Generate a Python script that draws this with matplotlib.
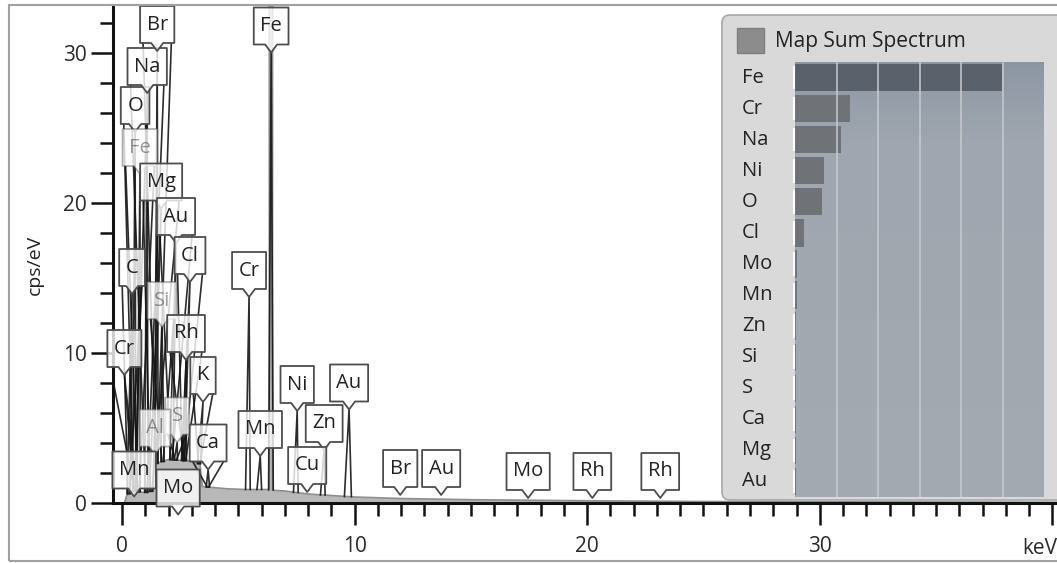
import numpy as np
import matplotlib
matplotlib.use("Agg")
import matplotlib.pyplot as plt
from matplotlib.patches import Polygon, Rectangle, FancyBboxPatch
from matplotlib.ticker import MultipleLocator, FixedLocator, FixedFormatter
from matplotlib.transforms import IdentityTransform
from matplotlib.colors import LinearSegmentedColormap

# ---------------- data ----------------
# Map Sum Spectrum (grey filled), energy in keV and cps/eV
spec_energy = [-0.39, 0.10, 0.20, 0.40, 1.00, 1.30, 1.40, 2.00, 3.00, 3.35, 3.45,
               4.50, 5.30, 6.33, 6.33, 6.47, 6.47, 7.00, 8.00, 10.0, 12.0, 15.0,
               20.0, 25.0, 30.0, 40.2]
spec_cps = [0.0, 0.0, 0.5, 0.8, 0.7, 0.8, 2.6, 2.9, 2.8, 2.6, 1.1,
            0.95, 0.9, 0.9, 40.0, 40.0, 0.85, 0.8, 0.6, 0.4, 0.3, 0.22,
            0.15, 0.10, 0.08, 0.05]

# peak labels: element, energy (keV), label height (cps/eV)
label_text = ["C", "O", "Fe", "Na", "Br", "Mg", "Au", "Cl", "Si", "Cr", "Rh", "K",
              "S", "Al", "Ca", "Mn", "Mo", "Cr", "Fe", "Mn", "Ni", "Zn", "Cu", "Au",
              "Br", "Au", "Mo", "Rh", "Rh"]
label_energy = [0.43, 0.56, 0.77, 1.08, 1.51, 1.68, 2.32, 2.92, 1.72, 0.10, 2.75, 3.48,
                2.37, 1.42, 3.70, 0.52, 2.41, 5.46, 6.41, 5.94, 7.53, 8.69, 7.96, 9.76,
                11.96, 13.72, 17.46, 20.22, 23.14]
label_height = [15.7, 26.5, 23.7, 29.1, 31.9, 21.4, 19.1, 16.5, 13.5, 10.3, 11.3, 8.5,
                5.8, 5.0, 4.0, 2.2, 1.0, 15.5, 31.8, 4.9, 7.9, 5.3, 2.5, 8.0,
                2.3, 2.3, 2.1, 2.1, 2.1]
# line energies the callouts point to (keV)
line_energy = [0.28, 0.52, 0.71, 1.04, 1.48, 1.25, 2.12, 2.62, 1.74, 0.57, 2.70, 3.31,
               2.31, 1.49, 3.69, 0.64, 2.29, 5.41, 6.40, 5.90, 7.47, 8.63, 8.04, 9.71,
               11.96, 13.72, 17.46, 20.22, 23.14]
faded_labels = {2, 8, 12, 13}

# quantification bars (wt%)
quant_elements = ["Fe", "Cr", "Na", "Ni", "O", "Cl", "Mo", "Mn", "Zn", "Si", "S", "Ca", "Mg", "Au"]
quant_values = [49.8, 13.2, 11.0, 7.0, 6.5, 2.2, 0.5, 0.4, 0.25, 0.2, 0.2, 0.2, 0.15, 0.15]

x_major = [0, 10, 20, 30, 40]
x_major_labels = ["0", "10", "20", "30", ""]

# ---------------- figure ----------------
W, H = 1057, 563
plt.rcParams['font.family'] = ['Open Sans', 'DejaVu Sans']
fig = plt.figure(figsize=(W / 100, H / 100), dpi=100)
fig.patch.set_facecolor("white")


def px_axes(x0, y0, x1, y1):
    return [x0 / W, 1 - y1 / H, (x1 - x0) / W, (y1 - y0) / H]


ax = fig.add_axes(px_axes(113, 5, 1057, 503))
ax.set_xlim(-0.39, 40.2)
ax.set_ylim(0, 33.2)
for s in ["top", "right"]:
    ax.spines[s].set_visible(False)
for s in ["left", "bottom"]:
    ax.spines[s].set_linewidth(2.2)
    ax.spines[s].set_color("#111111")

ax.xaxis.set_major_locator(FixedLocator(x_major))
ax.xaxis.set_major_formatter(FixedFormatter(x_major_labels))
ax.xaxis.set_minor_locator(MultipleLocator(1))
ax.yaxis.set_major_locator(MultipleLocator(10))
ax.yaxis.set_minor_locator(MultipleLocator(2))
ax.tick_params(which="major", direction="out", length=16, width=1.8, color="#111111",
               labelsize=15, labelcolor="#2a2a2a")
ax.tick_params(which="minor", direction="out", length=9.5, width=1.8, color="#111111")
ax.tick_params(axis="x", which="major", pad=8)
ax.tick_params(axis="y", which="major", pad=3)

# grey spectrum
ax.fill_between(spec_energy, spec_cps, 0, color="#b8b8b8", lw=0, zorder=2)
ax.plot(spec_energy, spec_cps, color="#8f8f8f", lw=1.2, zorder=2.1)

spec_e_arr = np.array(spec_energy)
spec_v_arr = np.array(spec_cps)
bgmask = spec_v_arr < 10

# label callouts
texts = []
for i, (t, e, h) in enumerate(zip(label_text, label_energy, label_height)):
    faded = i in faded_labels
    tx = ax.text(e, h, t, ha="center", va="center", fontsize=14.5,
                 color="#222222", alpha=0.45 if faded else 1.0,
                 zorder=5 + i * 0.01 + 0.005, clip_on=False)
    texts.append(tx)

fig.canvas.draw()
renderer = fig.canvas.get_renderer()
inv = ax.transData.inverted()
line_kw = dict(color="#151515", lw=1.2, alpha=0.9, zorder=3)
for i, (tx, e, h, le) in enumerate(zip(texts, label_energy, label_height, line_energy)):
    faded = i in faded_labels
    bb = tx.get_window_extent(renderer)
    cx, cy = ax.transData.transform((e, h))
    hw = max(bb.width / 2 + 6.5, 12)
    hh = 18.5
    pw, pd = 6, 8
    verts = [(cx - hw, cy + hh), (cx + hw, cy + hh), (cx + hw, cy - hh),
             (cx + pw, cy - hh), (cx, cy - hh - pd), (cx - pw, cy - hh),
             (cx - hw, cy - hh)]
    verts = inv.transform(verts)
    poly = Polygon(verts, closed=True, facecolor=(1, 1, 1, 0.8),
                   edgecolor=(0.3, 0.3, 0.3, 0.45 if faded else 1.0),
                   lw=1.3, zorder=5 + i * 0.01, clip_on=False, joinstyle="round")
    ax.add_patch(poly)

    # leader / peak lines from the callout down to the spectrum
    b = float(np.interp(le, spec_e_arr[bgmask], spec_v_arr[bgmask]))
    tip = inv.transform((cx, cy - hh - pd))
    if tip[1] <= b + 0.6:
        continue
    w = 0.07 if le < 4 else (0.15 if le > 9 else 0.10)
    ax.plot([le - w, tip[0], le + w], [b, tip[1], b], **line_kw)
    if le < 4:
        bl = inv.transform((cx - hw + 3, cy - hh))
        br = inv.transform((cx + hw - 3, cy - hh))
        ax.plot([bl[0], le - 0.03], [bl[1], b], **line_kw)
        ax.plot([br[0], le + 0.03], [br[1], b], **line_kw)

# axis labels
fig.text(35 / W, 1 - 265 / H, "cps/eV", rotation=90, ha="center", va="center",
         fontsize=14, color="#222222")
fig.text(1.0, 1 - 548 / H, "keV", ha="right", va="center", fontsize=15, color="#2a2a2a")

# ---------------- legend / quant panel ----------------
panel = FancyBboxPatch((722, 63), 360, 485, boxstyle="round,pad=0,rounding_size=8",
                       facecolor="#d9d9d9", edgecolor="#a8a8a8", lw=1.2,
                       transform=IdentityTransform(), zorder=1)
fig.add_artist(panel)
sq = Rectangle((737, 510), 27, 25, facecolor="#8c8c8c", edgecolor="#7e7e7e", lw=1,
               transform=IdentityTransform(), zorder=1.1)
fig.add_artist(sq)
fig.text(775 / W, 1 - 42 / H, "Map Sum Spectrum", ha="left", va="center",
         fontsize=15, color="#222222", zorder=1.2)

ax2 = fig.add_axes(px_axes(795, 62, 1044, 497))
ax2.set_zorder(5)
n = len(quant_elements)
ax2.set_xlim(0, 60)
ax2.set_ylim(n - 0.5, -0.5)
cmap = LinearSegmentedColormap.from_list("bg", [(0, "#8c96a3"), (0.18, "#9fa6af"), (1, "#a4aab1")])
grad = np.linspace(0, 1, 256).reshape(-1, 1)
ax2.imshow(grad, extent=[0, 60, n - 0.5, -0.5], aspect="auto", cmap=cmap, zorder=0)
bar_colors = ["#5b616a"] + ["#6f7378"] * (n - 1)
ax2.barh(range(n), quant_values, height=0.88, color=bar_colors, zorder=2)
ax2.vlines([10, 20, 30, 40, 50], -0.5, n - 0.5, colors="#c7cbd0", lw=1.3, alpha=0.85, zorder=3)
ax2.vlines([-0.35] * n, np.arange(n) - 0.38, np.arange(n) + 0.38, colors="white",
           lw=1.5, zorder=4, clip_on=False)
ax2.set_xticks([])
ax2.set_yticks([])
for s in ax2.spines.values():
    s.set_visible(False)
for i, el in enumerate(quant_elements):
    ax2.text(-0.213, i, el, transform=ax2.get_yaxis_transform(), ha="left", va="center",
             fontsize=14.5, color="#222222", clip_on=False)

# outer frame
frame = Rectangle((9, 2), 1070, 556, fill=False, edgecolor="#a0a0a0", lw=1.5,
                  transform=IdentityTransform(), zorder=10)
fig.add_artist(frame)

fig.savefig("out.png", dpi=100)
